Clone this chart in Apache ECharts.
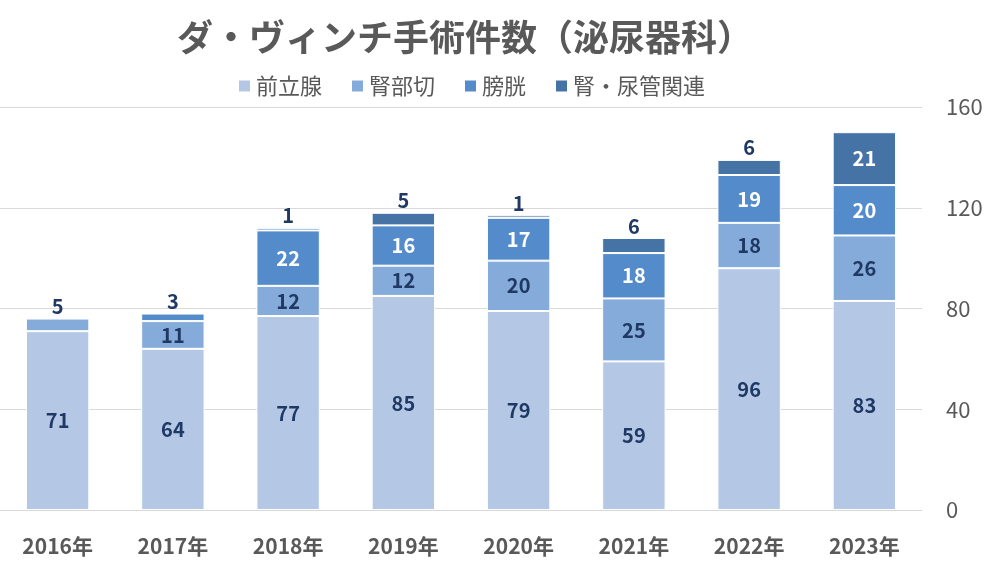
<!DOCTYPE html>
<html><head><meta charset="utf-8">
<script src="https://cdn.jsdelivr.net/npm/echarts@6/dist/echarts.min.js"></script>
<style>html,body{margin:0;padding:0;background:#fff}#c{width:998px;height:573px}</style>
</head><body><div id="c"></div>
<script>
const categories = ['2016年','2017年','2018年','2019年','2020年','2021年','2022年','2023年'];
const seriesNames = ['前立腺','腎部切','膀胱','腎・尿管関連'];
const prostate = [71, 64, 77, 85, 79, 59, 96, 83];
const kidneyPartial = [5, 11, 12, 12, 20, 25, 18, 26];
const bladder = [null, 3, 22, 16, 17, 18, 19, 20];
const kidneyUreter = [null, null, 1, 5, 1, 6, 6, 21];
const yTicks = [0, 40, 80, 120, 160];

const colors = ['#b4c8e6', '#85abdb', '#548bca', '#4673a6'];
const insideLabelColors = ['#1f3864', '#1f3864', '#ffffff', '#ffffff'];
const FONT = '"Noto Sans CJK JP", "Noto Sans", sans-serif';
const values = [prostate, kidneyPartial, bladder, kidneyUreter];

const chart = echarts.init(document.getElementById('c'));
const series = values.map((arr, i) => ({
  name: seriesNames[i],
  type: 'bar',
  stack: 'total',
  barWidth: '55%',
  itemStyle: { color: colors[i], borderColor: '#ffffff', borderWidth: 1 },
  data: arr.map(v => {
    if (v == null) return null;
    const small = v < 8;
    return {
      value: v,
      label: {
        show: true,
        position: small ? 'top' : 'inside',
        distance: 2,
        color: small ? '#1f3864' : insideLabelColors[i],
        fontSize: 20,
        fontWeight: 'bold',
        fontFamily: FONT
      }
    };
  })
}));

chart.setOption({
  animation: false,
  title: {
    text: 'ダ・ヴィンチ手術件数（泌尿器科）',
    left: 460, top: 14, textAlign: 'center',
    textStyle: { fontFamily: FONT, fontSize: 36, fontWeight: 'bold', color: '#595959' }
  },
  legend: {
    data: seriesNames,
    top: 70, left: 232,
    itemWidth: 13, itemHeight: 13, itemGap: 28, icon: 'rect',
    textStyle: { fontFamily: FONT, fontSize: 22, color: '#595959' }
  },
  grid: { left: 0, right: 76, top: 107, bottom: 63, containLabel: false },
  xAxis: {
    type: 'category', data: categories,
    axisTick: { show: false },
    axisLine: { lineStyle: { color: '#d9d9d9' } },
    axisLabel: { fontFamily: FONT, fontSize: 21, fontWeight: 'bold', color: '#595959', margin: 26 }
  },
  yAxis: {
    type: 'value', position: 'right', min: yTicks[0], max: yTicks[yTicks.length-1], interval: 40,
    axisLine: { show: false }, axisTick: { show: false },
    splitLine: { lineStyle: { color: '#d9d9d9' } },
    axisLabel: { fontFamily: FONT, fontSize: 22, color: '#595959', margin: 24 }
  },
  series: series
});
</script></body></html>
